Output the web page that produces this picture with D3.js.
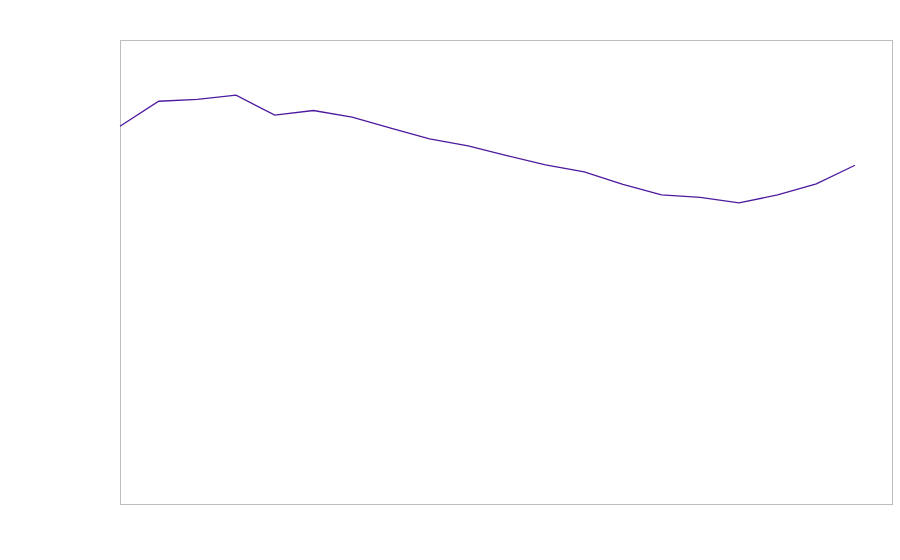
<!DOCTYPE html>
<html>
<head>
<meta charset="utf-8">
<script src="https://cdn.jsdelivr.net/npm/d3@7"></script>
<style>
  html, body { margin: 0; padding: 0; background: #fff; }
  svg { display: block; }
</style>
</head>
<body>
<svg class="vis"></svg>
<script>
// one series (no axis labels shown, so arbitrary units)
const steps = d3.range(20);
const values = [81.4, 86.8, 87.2, 88.1, 83.8, 84.8, 83.4, 81.0, 78.7, 77.2,
                75.1, 73.1, 71.6, 68.9, 66.6, 66.1, 64.9, 66.6, 69.0, 73.0];

const w = 900, h = 560;
const margin = { top: 40, right: 8, bottom: 56, left: 120 };

const svg = d3.select("svg.vis")
    .attr("width", w)
    .attr("height", h);

// the line ends a little short of the right edge of the frame
const x = d3.scaleLinear()
    .domain([0, 19])
    .range([margin.left, 855]);

const y = d3.scaleLinear()
    .domain([0, 100])
    .range([h - margin.bottom, margin.top]);

// frame round the plot area
svg.append("rect")
    .attr("x", margin.left + 0.5)
    .attr("y", margin.top + 0.5)
    .attr("width", w - margin.left - margin.right)
    .attr("height", h - margin.top - margin.bottom)
    .attr("fill", "none")
    .attr("stroke", "#bdbdbd")
    .attr("stroke-width", 1);

const line = d3.line()
    .x((d, i) => x(steps[i]))
    .y(d => y(d));

svg.append("path")
    .datum(values)
    .attr("d", line)
    .attr("fill", "none")
    .attr("stroke", "#4d1a9e")
    .attr("stroke-width", 1.3);
</script>
</body>
</html>
